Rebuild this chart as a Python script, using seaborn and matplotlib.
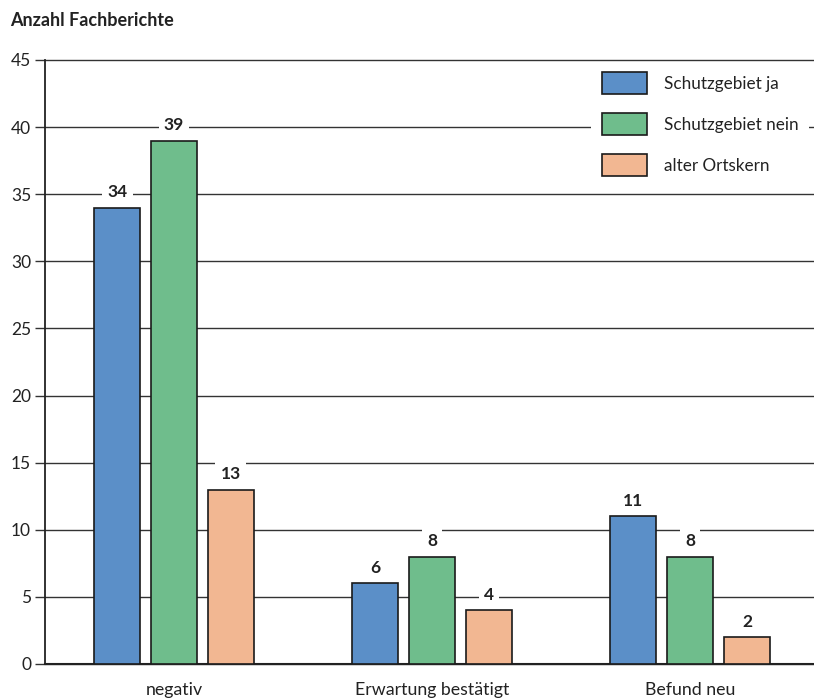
import matplotlib
matplotlib.use("Agg")
import matplotlib.pyplot as plt
import seaborn as sns
import pandas as pd
import numpy as np

categories = ["negativ", "Erwartung bestätigt", "Befund neu"]
series = ["Schutzgebiet ja", "Schutzgebiet nein", "alter Ortskern"]
values_ja = [34, 6, 11]
values_nein = [39, 8, 8]
values_alt = [13, 4, 2]
colors = ["#5b8fc8", "#6fbd8c", "#f2b792"]
yticks = [0, 5, 10, 15, 20, 25, 30, 35, 40, 45]

rows = []
for s, vals in zip(series, [values_ja, values_nein, values_alt]):
    for c, v in zip(categories, vals):
        rows.append({"Kategorie": c, "Serie": s, "Wert": v})
df = pd.DataFrame(rows)

sns.set_theme(style="white")
plt.rcParams['font.family'] = ['Lato', 'DejaVu Sans']

fig = plt.figure(figsize=(8.14, 7.0), dpi=100)
ax = fig.add_axes([45/814, 1 - 664/700, 1 - 45/814, (664-60)/700])

sns.barplot(data=df, x="Kategorie", y="Wert", hue="Serie", order=categories,
            hue_order=series, palette=colors, width=0.66, gap=0.19,
            edgecolor="#1a1a1a", linewidth=1.2, saturation=1, ax=ax, zorder=3)

ax.set_ylim(0, 45)
ax.set_xlim(-0.5, 2.48)
ax.set_yticks(yticks)
ax.set_yticklabels([str(t) for t in yticks], fontsize=12.5, color="#222222")
for t in yticks:
    ax.axhline(t, color="#333333", lw=1.0, zorder=1, clip_on=False)

ax.set_xticks([0, 1, 2])
ax.set_xticklabels(categories, fontsize=12.8, color="#222222")
ax.set_xticks([-0.5, 0.5, 1.5], minor=True)
ax.tick_params(axis="x", which="major", length=0, pad=13)
ax.tick_params(axis="x", which="minor", length=9, width=1, color="#333333", direction="out")
ax.tick_params(axis="y", length=7, width=1, color="#333333", direction="out", pad=3, left=True)

for side in ["top", "right"]:
    ax.spines[side].set_visible(False)
ax.spines["left"].set_color("#222222")
ax.spines["left"].set_linewidth(1.3)
ax.spines["bottom"].set_color("#222222")
ax.spines["bottom"].set_linewidth(1.5)
ax.spines["left"].set_bounds(0, 45)

ax.set_xlabel("")
ax.set_ylabel("")

for cont in ax.containers:
    for bar in cont:
        h = bar.get_height()
        ax.annotate(f"{int(h)}", (bar.get_x() + bar.get_width() / 2, h),
                    xytext=(0, 11), textcoords="offset points",
                    ha="center", va="center", fontsize=12.5, fontweight="bold",
                    color="#222222", zorder=4,
                    bbox=dict(boxstyle="square,pad=0.3", fc="white", ec="none"))

leg = ax.legend(loc="upper right", bbox_to_anchor=(1.0, 1.005), fontsize=12.3,
                frameon=True, facecolor="white", edgecolor="none", framealpha=1,
                handlelength=2.65, handleheight=1.55, labelspacing=1.15,
                handletextpad=1.0, borderpad=0.6, borderaxespad=0.3)
leg.set_zorder(5)
for txt in leg.get_texts():
    txt.set_color("#222222")
for p in leg.get_patches():
    p.set_edgecolor("#1a1a1a")
    p.set_linewidth(1.2)

fig.text(10/814, 1 - 20/700, "Anzahl Fachberichte", fontsize=13, fontweight="bold",
         color="#222222", ha="left", va="center")

fig.savefig("out.png", dpi=100, facecolor="white")
